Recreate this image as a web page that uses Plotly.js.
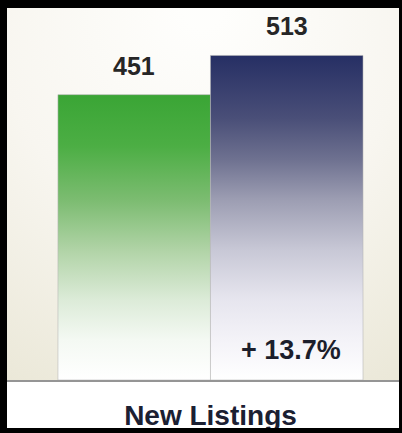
<!DOCTYPE html>
<html>
<head>
<meta charset="utf-8">
<script src="https://cdn.plot.ly/plotly-3.0.1.min.js"></script>
<style>
  html, body { margin: 0; padding: 0; background: #000; overflow: hidden; }
  #frame {
    position: absolute; left: 0; top: 0; width: 402px; height: 433px;
    box-sizing: border-box; background: #000;
    border-style: solid; border-color: #000;
    border-width: 8px 3px 5px 7px; overflow: hidden;
  }
  #chart { width: 392px; height: 420px; background: #fff; }
</style>
</head>
<body>
<div id="frame"><div id="chart"></div></div>
<script>
// ---- data ----
var periods = ['Prior Period', 'Current Period'];
var values = [451, 513];
var valueLabels = ['451', '513'];
var changeLabel = '+ 13.7%';
var categoryLabel = 'New Listings';

// ---- styles ----
var greenScale = [[0, '#ffffff'], [0.14, '#f4f9f3'], [0.28, '#dcebd8'], [0.45, '#b2d4a8'],
                  [0.63, '#7cbc71'], [0.82, '#4cae44'], [1, '#3aa535']];
var blueScale = [[0, '#ffffff'], [0.12, '#f4f3f8'], [0.25, '#e6e5ee'], [0.40, '#c8c8d6'],
                 [0.557, '#9c9db2'], [0.68, '#6e7190'], [0.805, '#4a4f78'], [1, '#262f64']];
var scales = [greenScale, blueScale];

// background gradient image (decorative)
var cv = document.createElement('canvas');
cv.width = 392; cv.height = 372;
var ctx = cv.getContext('2d');
var g = ctx.createRadialGradient(196, 0, 20, 196, 40, 430);
g.addColorStop(0, '#fefefc');
g.addColorStop(0.45, '#f8f6f0');
g.addColorStop(1, '#e8e5d3');
ctx.fillStyle = g;
ctx.fillRect(0, 0, 392, 372);
var bgURL = cv.toDataURL('image/png');

var traces = [];
periods.forEach(function (p, i) {
  var v = values[i];
  traces.push({
    type: 'scatter',
    name: p,
    x: [i - 0.5, i - 0.5, i + 0.5, i + 0.5, i - 0.5],
    y: [0, v, v, 0, 0],
    mode: 'lines',
    fill: 'toself',
    fillgradient: { type: 'vertical', colorscale: scales[i], start: 0, stop: v },
    line: { color: 'rgba(180,180,180,0.55)', width: 1 },
    hoverinfo: 'name+text',
    text: String(v),
    showlegend: false
  });
});

var annotations = periods.map(function (p, i) {
  return {
    x: i, y: values[i], xref: 'x', yref: 'y',
    text: valueLabels[i], showarrow: false,
    yanchor: 'bottom', yshift: 13,
    font: { family: 'Liberation Sans, Arial, sans-serif', size: 25, color: '#262626', weight: 'bold' }
  };
});
annotations.push({
  x: 1, y: 0, xref: 'x', yref: 'y',
  text: changeLabel, showarrow: false,
  yanchor: 'bottom', yshift: 13, xshift: 4,
  font: { family: 'Liberation Sans, Arial, sans-serif', size: 27, color: '#1c1e2b', weight: 'bold' }
});

var layout = {
  width: 392, height: 420,
  margin: { l: 0, r: 0, t: 0, b: 48 },
  paper_bgcolor: '#ffffff',
  plot_bgcolor: '#f5f3ea',
  showlegend: false,
  xaxis: {
    range: [-0.834, 1.736],
    showgrid: false, zeroline: false,
    showline: true, linecolor: '#959595', linewidth: 2,
    ticks: '',
    ticklabelstandoff: 9,
    tickvals: [0.5], ticktext: [categoryLabel],
    tickfont: { family: 'Liberation Sans, Arial, sans-serif', size: 28, color: '#1b2032', weight: 'bold' },
    fixedrange: true
  },
  yaxis: {
    range: [0, 588],
    showgrid: false, zeroline: false, showline: false,
    showticklabels: false, ticks: '',
    fixedrange: true
  },
  images: [{
    source: bgURL, xref: 'paper', yref: 'paper', x: 0, y: 1,
    sizex: 1, sizey: 1, sizing: 'stretch', layer: 'below',
    xanchor: 'left', yanchor: 'top'
  }],
  annotations: annotations
};

Plotly.newPlot('chart', traces, layout, { displayModeBar: false, staticPlot: true });
</script>
</body>
</html>
